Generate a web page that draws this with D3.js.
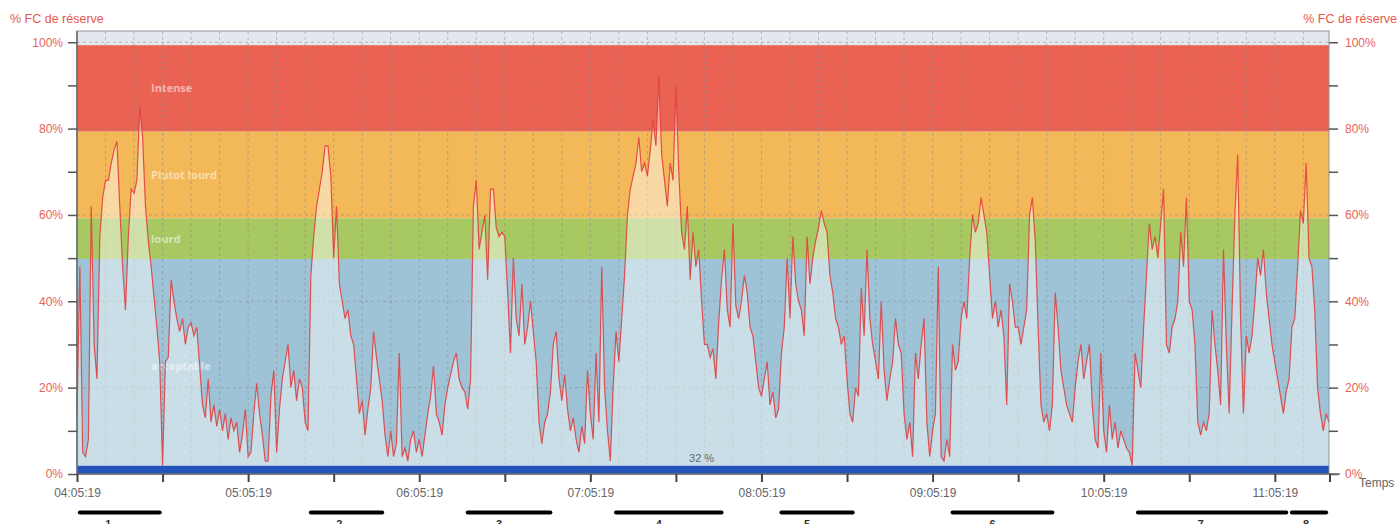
<!DOCTYPE html>
<html>
<head>
<meta charset="utf-8">
<script src="https://cdn.jsdelivr.net/npm/d3@7"></script>
<style>
    body { margin: 0; background: #fff; }
    #chart-area { width: 1398px; height: 524px; }
    text { font-family: "Liberation Sans", Arial, sans-serif; }
</style>
</head>
<body>
<div id="chart-area"></div>
<script>

// minutes since 04:05:19, one reading per minute (% FC de réserve)
let hrValues = [
    14, 48, 5, 4, 8, 62, 30, 22, 55, 64, 68,
    68, 72, 75, 77, 62, 48, 38, 55, 66, 65,
    68, 85, 78, 62, 54, 48, 41, 34, 26, 2,
    26, 27, 45, 40, 36, 33, 36, 30, 34, 35,
    32, 34, 25, 16, 13, 22, 12, 16, 11, 15,
    10, 14, 8, 13, 10, 12, 5, 9, 15, 4,
    5, 14, 21, 14, 9, 3, 3, 18, 24, 5,
    15, 22, 26, 30, 20, 24, 17, 22, 20, 12,
    10, 46, 55, 62, 66, 70, 76, 76, 69, 50,
    62, 44, 40, 36, 38, 32, 30, 22, 14, 17,
    9, 15, 20, 33, 27, 22, 17, 9, 4, 10,
    4, 7, 28, 4, 6, 3, 8, 10, 5, 8,
    4, 9, 14, 18, 25, 14, 12, 9, 16, 20,
    23, 26, 28, 22, 20, 19, 15, 22, 62, 68,
    52, 56, 60, 45, 66, 66, 57, 55, 56, 55,
    42, 28, 50, 36, 32, 44, 30, 34, 40, 33,
    26, 12, 7, 12, 14, 19, 30, 33, 22, 17,
    23, 15, 10, 13, 8, 5, 11, 7, 24, 14,
    8, 28, 12, 48, 20, 10, 3, 20, 33, 26,
    36, 46, 60, 66, 69, 72, 78, 70, 72, 69,
    75, 82, 76, 92, 74, 68, 62, 72, 68, 90,
    70, 56, 52, 62, 45, 56, 48, 52, 40, 30,
    30, 27, 29, 22, 35, 45, 52, 38, 34, 58,
    39, 36, 40, 46, 42, 34, 32, 26, 20, 18,
    22, 26, 16, 19, 13, 15, 28, 34, 50, 36,
    55, 44, 40, 38, 32, 55, 44, 50, 54, 57,
    61, 58, 56, 46, 42, 36, 34, 30, 32, 22,
    14, 12, 20, 18, 43, 32, 52, 36, 30, 26,
    22, 40, 24, 17, 22, 26, 36, 30, 28, 14,
    8, 12, 4, 28, 22, 30, 36, 12, 4, 10,
    14, 48, 4, 3, 8, 4, 30, 24, 26, 36,
    40, 36, 50, 60, 56, 58, 64, 60, 56, 46,
    36, 40, 34, 38, 32, 16, 44, 40, 34, 34,
    30, 34, 38, 60, 64, 54, 34, 16, 12, 14,
    10, 16, 42, 34, 24, 20, 16, 14, 12, 20,
    26, 30, 22, 26, 30, 16, 8, 6, 28, 10,
    5, 16, 8, 12, 6, 10, 8, 6, 5, 2,
    28, 24, 20, 34, 46, 58, 52, 55, 50, 58,
    66, 30, 28, 34, 36, 40, 56, 48, 64, 40,
    38, 30, 12, 9, 12, 10, 14, 38, 30, 24,
    16, 52, 30, 14, 38, 60, 74, 36, 14, 32,
    28, 32, 40, 50, 46, 52, 42, 36, 30, 26,
    22, 18, 14, 19, 22, 34, 36, 48, 61, 58,
    72, 50, 48, 38, 20, 14, 10, 14, 12
];

// intensity zones
let zoneNames = ['Intense', 'Plutot lourd', 'lourd', 'acceptable'];
let zoneLow = [79.3, 59.2, 49.8, 0];
let zoneHigh = [99.3, 79.3, 59.2, 49.8];

// work periods (minutes since start)
let segNames = ['1', '2', '3', '4', '5', '6', '7', '8'];
let segStart = [1, 82, 137, 189, 247, 307, 372, 426];
let segEnd = [29, 107, 166, 226, 272, 342, 424, 438];
let segLabelAt = [11.6, 92.6, 148.8, 204.2, 256.5, 321.4, 394.8, 431.6];

let totalMinutes = 439;
let baseBand = 1.9;
let summaryText = '32 %';
let yTicks = [0, 10, 20, 30, 40, 50, 60, 70, 80, 90, 100];


class HrChart {

    constructor(parentElement) {
        this.parentElement = parentElement;
        this.initVis();
    }

    initVis() {
        let vis = this;

        vis.width = 1398;
        vis.height = 524;
        vis.plot = {left: 77, right: 1329, top: 31, bottom: 474};

        vis.svg = d3.select("#" + vis.parentElement).append("svg")
            .attr("width", vis.width)
            .attr("height", vis.height);

        vis.start = new Date(2019, 0, 1, 4, 5, 19);

        vis.x = d3.scaleTime()
            .domain([vis.start, d3.timeMinute.offset(vis.start, totalMinutes)])
            .range([vis.plot.left, vis.plot.right]);

        vis.y = d3.scaleLinear()
            .domain([0, 102.6])
            .range([vis.plot.bottom, vis.plot.top]);

        vis.colors = {
            'Intense': '#ea6252',
            'Plutot lourd': '#f3b858',
            'lourd': '#a8c961',
            'acceptable': '#9fc3d6'
        };

        vis.wrangleData();
    }

    wrangleData() {
        let vis = this;

        vis.hr = hrValues.map((v, i) => ({time: d3.timeMinute.offset(vis.start, i), value: v}));
        vis.zones = zoneNames.map((n, i) => ({name: n, lo: zoneLow[i], hi: zoneHigh[i]}));
        vis.segs = segNames.map((n, i) => ({
            name: n,
            start: d3.timeMinute.offset(vis.start, segStart[i]),
            end: d3.timeMinute.offset(vis.start, segEnd[i]),
            label: d3.timeMinute.offset(vis.start, segLabelAt[i])
        }));

        vis.updateVis();
    }

    updateVis() {
        let vis = this;
        let p = vis.plot;

        // plot background
        vis.svg.append('rect')
            .attr('x', p.left).attr('y', p.top)
            .attr('width', p.right - p.left).attr('height', p.bottom - p.top)
            .attr('fill', '#e3e8ee');

        // zones
        vis.svg.selectAll('.zone')
            .data(vis.zones)
            .enter().append('rect')
            .attr('class', 'zone')
            .attr('x', p.left)
            .attr('width', p.right - p.left)
            .attr('y', d => vis.y(d.hi))
            .attr('height', d => vis.y(d.lo) - vis.y(d.hi))
            .attr('fill', d => vis.colors[d.name]);

        vis.svg.selectAll('.zone-label')
            .data(vis.zones)
            .enter().append('text')
            .attr('class', 'zone-label')
            .attr('x', p.left + 74)
            .attr('y', d => vis.y((d.lo + d.hi) / 2) + 4)
            .text(d => d.name)
            .style('font-family', '"Open Sans", sans-serif')
            .style('font-weight', 700)
            .style('font-size', '11px')
            .attr('fill', '#fff')
            .attr('fill-opacity', 0.55);

        // grid
        let gridTimes = d3.range(10, totalMinutes, 10).map(m => d3.timeMinute.offset(vis.start, m));
        vis.svg.selectAll('.vgrid')
            .data(gridTimes)
            .enter().append('line')
            .attr('class', 'vgrid')
            .attr('x1', d => vis.x(d)).attr('x2', d => vis.x(d))
            .attr('y1', p.top).attr('y2', p.bottom)
            .attr('stroke', '#8a8a8a').attr('stroke-opacity', 0.55)
            .attr('stroke-dasharray', '3,3');

        vis.svg.selectAll('.hgrid')
            .data([20, 40, 60, 80, 100])
            .enter().append('line')
            .attr('class', 'hgrid')
            .attr('x1', p.left).attr('x2', p.right)
            .attr('y1', d => vis.y(d)).attr('y2', d => vis.y(d))
            .attr('stroke', '#8a8a8a').attr('stroke-opacity', 0.55)
            .attr('stroke-dasharray', '3,3');

        // heart rate area + line
        let area = d3.area()
            .x(d => vis.x(d.time))
            .y0(vis.y(0))
            .y1(d => vis.y(d.value));

        let line = d3.line()
            .x(d => vis.x(d.time))
            .y(d => vis.y(d.value));

        vis.svg.append('path')
            .datum(vis.hr)
            .attr('d', area)
            .attr('fill', '#fff')
            .attr('fill-opacity', 0.45);

        vis.svg.append('path')
            .datum(vis.hr)
            .attr('d', line)
            .attr('fill', 'none')
            .attr('stroke', '#e03a3a')
            .attr('stroke-width', 1.2)
            .attr('stroke-opacity', 0.85);

        // bottom band
        vis.svg.append('rect')
            .attr('x', p.left).attr('width', p.right - p.left)
            .attr('y', vis.y(baseBand)).attr('height', vis.y(0) - vis.y(baseBand))
            .attr('fill', '#2354bc');

        vis.svg.append('text')
            .attr('x', vis.x(d3.timeMinute.offset(vis.start, totalMinutes / 2)))
            .attr('y', vis.y(baseBand) - 4)
            .attr('text-anchor', 'middle')
            .style('font-size', '11px')
            .attr('fill', '#666')
            .text(summaryText);

        // frame
        vis.svg.append('rect')
            .attr('x', p.left).attr('y', p.top)
            .attr('width', p.right - p.left).attr('height', p.bottom - p.top)
            .attr('fill', 'none')
            .attr('stroke', '#8d949b').attr('stroke-width', 1);
        vis.svg.append('line')
            .attr('x1', p.left).attr('x2', p.left)
            .attr('y1', p.top).attr('y2', p.bottom)
            .attr('stroke', '#666').attr('stroke-width', 1.5);

        // axes
        let yFmt = d => d % 20 === 0 ? d + '%' : '';

        let yLeft = vis.svg.append('g')
            .attr('transform', `translate(${p.left}, 0)`)
            .call(d3.axisLeft(vis.y).tickValues(yTicks).tickSize(9).tickPadding(5).tickFormat(yFmt));

        let yRight = vis.svg.append('g')
            .attr('transform', `translate(${p.right}, 0)`)
            .call(d3.axisRight(vis.y).tickValues(yTicks).tickSize(9).tickPadding(7).tickFormat(yFmt));

        [yLeft, yRight].forEach(g => {
            g.select('.domain').remove();
            g.selectAll('line').attr('stroke', '#555').attr('stroke-width', 1.5);
            g.selectAll('text')
                .style('font-family', '"Liberation Sans", Arial, sans-serif')
                .style('font-size', '12px')
                .attr('fill', '#e8625c');
        });

        let xTickVals = d3.range(0, totalMinutes, 30).map(m => d3.timeMinute.offset(vis.start, m));
        let xAxis = vis.svg.append('g')
            .attr('transform', `translate(0, ${p.bottom})`)
            .call(d3.axisBottom(vis.x)
                .tickValues(xTickVals)
                .tickSize(8)
                .tickSizeOuter(0)
                .tickPadding(6)
                .tickFormat((d, i) => i % 2 === 0 ? d3.timeFormat('%H:%M:%S')(d) : ''));

        xAxis.select('.domain').attr('stroke', '#666').attr('stroke-width', 1.5)
            .attr('d', `M${p.left},0H${p.right + 11}`);
        xAxis.selectAll('line').attr('stroke', '#444').attr('stroke-width', 2);
        xAxis.selectAll('text')
            .style('font-family', '"Liberation Sans", Arial, sans-serif')
            .style('font-size', '12px')
            .attr('fill', '#666');

        // end tick of the time axis
        vis.svg.append('line')
            .attr('x1', p.right + 1).attr('x2', p.right + 1)
            .attr('y1', p.bottom).attr('y2', p.bottom + 8)
            .attr('stroke', '#444').attr('stroke-width', 2);

        // axis titles
        vis.svg.append('text')
            .attr('x', 10).attr('y', 23)
            .style('font-size', '12.5px')
            .attr('fill', '#e8574f')
            .text('% FC de réserve');

        vis.svg.append('text')
            .attr('x', 1397).attr('y', 23)
            .attr('text-anchor', 'end')
            .style('font-size', '12.5px')
            .attr('fill', '#e8574f')
            .text('% FC de réserve');

        vis.svg.append('text')
            .attr('x', 1359).attr('y', 487)
            .style('font-size', '12px')
            .attr('fill', '#666')
            .text('Temps');

        // work periods
        vis.svg.selectAll('.seg')
            .data(vis.segs)
            .enter().append('line')
            .attr('class', 'seg')
            .attr('x1', d => vis.x(d.start))
            .attr('x2', d => vis.x(d.end))
            .attr('y1', 512.5).attr('y2', 512.5)
            .attr('stroke', '#000')
            .attr('stroke-width', 4)
            .attr('stroke-linecap', 'round');

        vis.svg.selectAll('.seg-label')
            .data(vis.segs)
            .enter().append('text')
            .attr('class', 'seg-label')
            .attr('x', d => vis.x(d.label))
            .attr('y', 528)
            .attr('text-anchor', 'middle')
            .style('font-size', '11px')
            .style('font-weight', 700)
            .attr('fill', '#333')
            .text(d => d.name);
    }
}

let hrChart = new HrChart('chart-area');

</script>
</body>
</html>
